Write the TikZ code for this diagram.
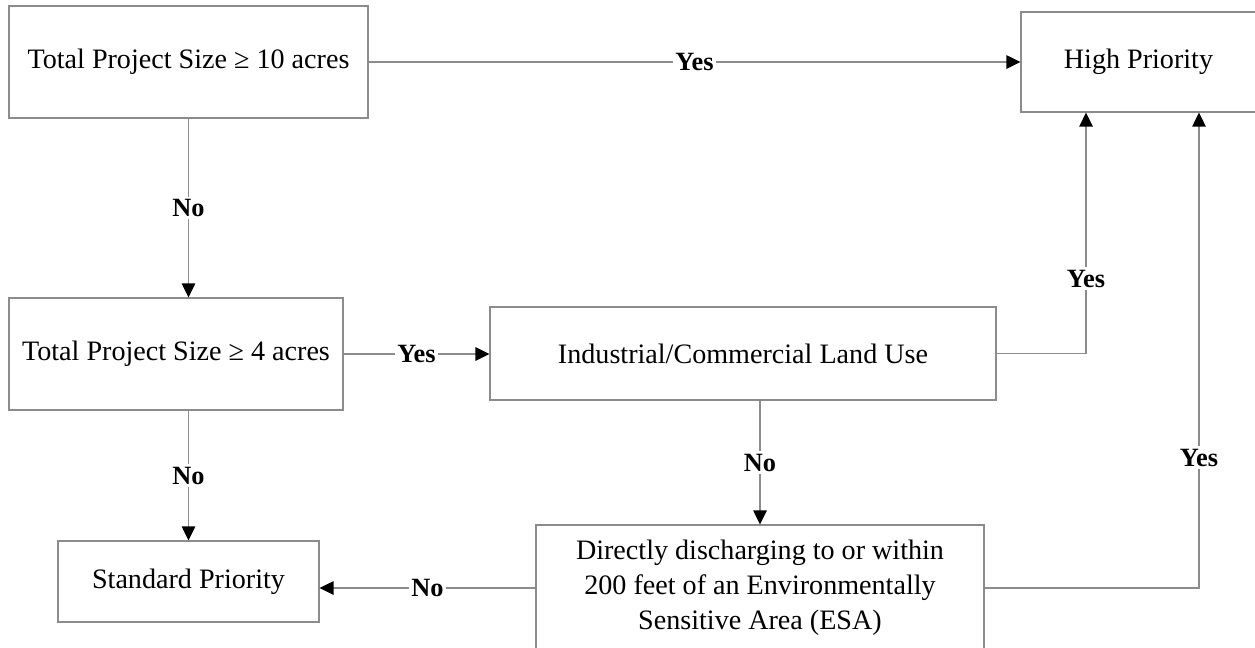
\documentclass[tikz,border=0pt]{standalone}
\usepackage{fontspec}
\setmainfont{Liberation Serif}
\usetikzlibrary{arrows.meta}
\tikzset{
  blk/.style={draw=black!45, line width=0.7pt, fill=white, align=center, inner sep=0pt, font=\fontsize{16}{20}\selectfont},
  lnk/.style={draw=black!45, line width=0.7pt, -{Triangle[length=0.28cm,width=0.27cm,color=black]}},
  lbl/.style={fill=white, inner sep=1.5pt, font=\fontsize{15}{17}\selectfont\bfseries}
}

\begin{document}
\begin{tikzpicture}[x=0.02cm,y=-0.02cm]
   \useasboundingbox (0,0) rectangle (1255,647);
   \clip (0,0) rectangle (1255,647);
   \node[blk, minimum width=7.18cm, minimum height=2.24cm] (size10) at (188.5,62) {Total Project Size ≥ 10 acres};
   \node[blk, minimum width=4.7cm, minimum height=2cm] (high) at (1138.5,62) {High Priority};
   \node[blk, minimum width=6.68cm, minimum height=2.24cm] (size4) at (176,354) {Total Project Size ≥ 4 acres};
   \node[blk, minimum width=10.12cm, minimum height=1.86cm] (indus) at (743,353.5) {Industrial/Commercial Land Use};
   \node[blk, minimum width=8.96cm, minimum height=2.52cm] (esa) at (760,588) {Directly discharging to or within\\200 feet of an Environmentally\\Sensitive Area (ESA)};
   \node[blk, minimum width=5.22cm, minimum height=1.62cm] (std) at (188.5,581.5) {Standard Priority};

   \draw[lnk] (size10.east) -- node[lbl]{Yes} (size10.east -| high.west);
   \draw[lnk] (size10.south) -- node[lbl]{No} (size10.south |- size4.north);
   \draw[lnk] (size4.east) -- node[lbl]{Yes} (size4.east -| indus.west);
   \draw[lnk] (size10.south |- size4.south) -- node[lbl]{No} (size10.south |- std.north);
   \draw[lnk] (indus.east) -| node[lbl, pos=0.655]{Yes} ([xshift=-1.05cm]high.south);
   \draw[lnk] (esa.north |- indus.south) -- node[lbl]{No} (esa.north);
   \draw[lnk] (esa.west) -- node[lbl]{No} (esa.west -| std.east);
   \draw[lnk] (esa.east) -| node[lbl, pos=0.637]{Yes} ([xshift=1.21cm]high.south);
\end{tikzpicture}
\end{document}
